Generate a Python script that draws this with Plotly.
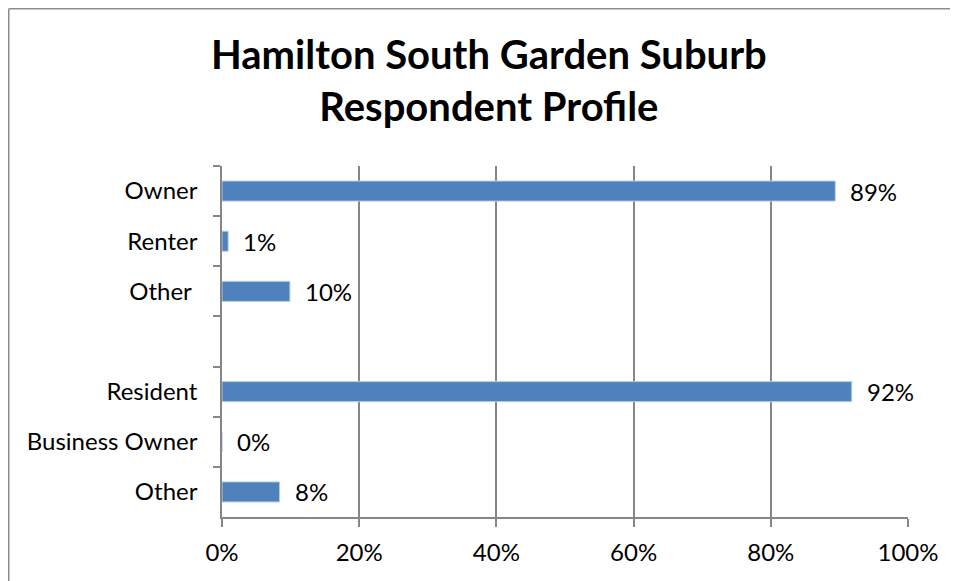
import plotly.graph_objects as go

# Respondent profile, top to bottom; the blank slot separates the two groups
categories = ["Owner", "Renter", "Other\u00a0", "\u00a0", "Resident", "Business Owner", "Other"]
shares = [0.894, 0.009, 0.099, None, 0.918, 0.0, 0.084]
x_ticks = [0, 0.2, 0.4, 0.6, 0.8, 1.0]
x_tick_labels = ["0%", "20%", "40%", "60%", "80%", "100%"]

# page body has an 8px margin, so the figure is sized to fit the window
W, H = 950, 573
M_L, M_R, M_T, M_B = 214, 50, 158, 64
FONT = "Lato, 'Open Sans', sans-serif"
AXIS_GREY = "#868686"

fig = go.Figure(go.Bar(
    x=shares,
    y=categories,
    orientation="h",
    marker=dict(color="#4F81BD", line=dict(color="#B9CDE5", width=1)),
    hoverinfo="x+y",
))

# data labels, placed a little beyond the bar end
for cat, val in zip(categories, shares):
    if val is None:
        continue
    fig.add_annotation(
        x=val, y=cat, text=f"{val:.0%}", showarrow=False,
        xanchor="left", xshift=13,
        font=dict(family=FONT, size=24, color="#000000"),
    )

pw = W - M_L - M_R
ph = H - M_T - M_B

# two-line title
fig.add_annotation(
    text="<b>Hamilton South Garden Suburb<br>Respondent Profile</b>",
    xref="paper", yref="paper",
    x=(481 - M_L) / pw, xanchor="center",
    y=1 + (M_T - 20) / ph, yanchor="top",
    showarrow=False,
    font=dict(family=FONT, size=40, color="#000000"),
)

# outer chart frame: only its top and left edges fall inside the window
px0 = (0.75 - M_L) / pw
px1 = (W + 20 - M_L) / pw
py_top = 1 + (M_T - 0.75) / ph
py_bot = -(H + 20 - M_T - ph) / ph
frame = dict(color="#8C8C8C", width=1.5)
fig.add_shape(type="line", xref="paper", yref="paper", layer="below",
              x0=px0, x1=px1, y0=py_top, y1=py_top, line=frame)
fig.add_shape(type="line", xref="paper", yref="paper", layer="below",
              x0=px0, x1=px0, y0=py_bot, y1=py_top, line=frame)

fig.update_layout(
    width=W, height=H,
    margin=dict(l=M_L, r=M_R, t=M_T, b=M_B),
    paper_bgcolor="white", plot_bgcolor="white",
    showlegend=False,
    bargap=0.6,
    font=dict(family=FONT, size=24, color="#000000"),
)

fig.update_xaxes(
    range=[0, 1],
    tickvals=x_ticks, ticktext=x_tick_labels,
    showgrid=True, gridcolor=AXIS_GREY, gridwidth=1.5,
    showline=True, linecolor=AXIS_GREY, linewidth=1.5,
    ticks="outside", ticklen=8, tickcolor=AXIS_GREY, tickwidth=1.5,
    ticklabelstandoff=5,
    zeroline=False,
    tickfont=dict(family=FONT, size=24),
)

fig.update_yaxes(
    type="category",
    autorange="reversed",
    categoryorder="array", categoryarray=categories,
    tickson="boundaries",
    showgrid=False,
    showline=True, linecolor=AXIS_GREY, linewidth=1.5,
    ticks="outside", ticklen=7, tickcolor=AXIS_GREY, tickwidth=1.5,
    ticklabelstandoff=18,
    tickfont=dict(family=FONT, size=24),
)

fig.write_html("out.html", config={"displayModeBar": False})
